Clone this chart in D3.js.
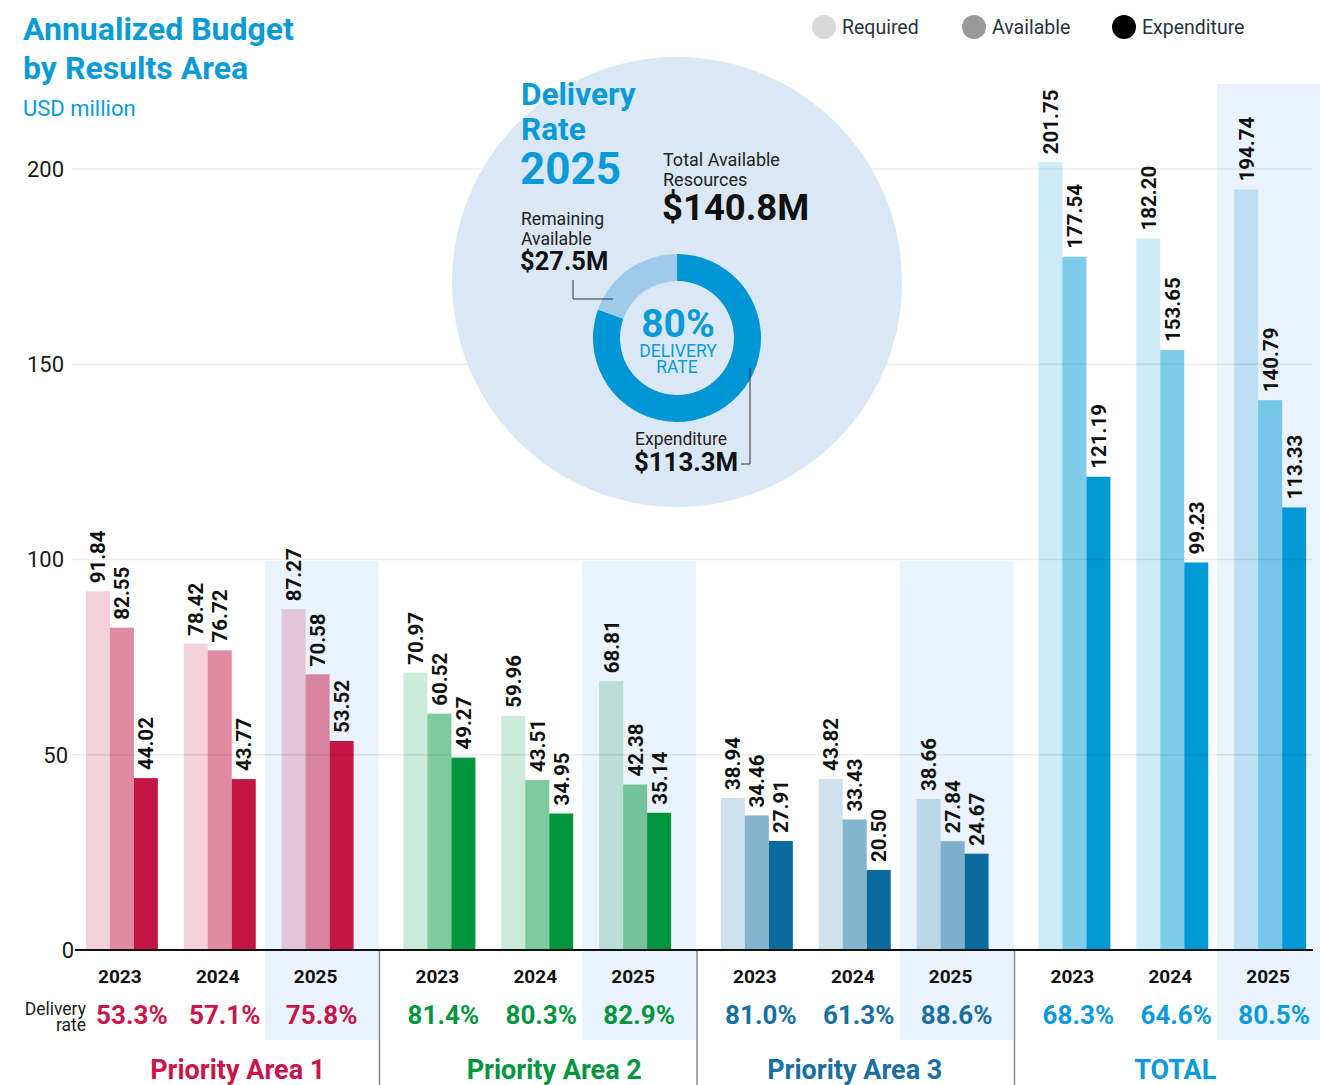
<!DOCTYPE html>
<html>
<head>
<meta charset="utf-8">
<script src="https://cdn.jsdelivr.net/npm/d3@7"></script>
<style>
  body { margin: 0; background: #fff; }
  svg { display: block; font-family: Roboto, "Noto Sans", sans-serif; }
</style>
</head>
<body>
<div id="chart"></div>
<script>
// data
const groups = ["Priority Area 1", "Priority Area 2", "Priority Area 3", "TOTAL"]
const years = ["2023", "2024", "2025"]
const series = ["Required", "Available", "Expenditure"]

const required = [
  [91.84, 78.42, 87.27],
  [70.97, 59.96, 68.81],
  [38.94, 43.82, 38.66],
  [201.75, 182.20, 194.74]
]
const available = [
  [82.55, 76.72, 70.58],
  [60.52, 43.51, 42.38],
  [34.46, 33.43, 27.84],
  [177.54, 153.65, 140.79]
]
const expenditure = [
  [44.02, 43.77, 53.52],
  [49.27, 34.95, 35.14],
  [27.91, 20.50, 24.67],
  [121.19, 99.23, 113.33]
]
const deliveryRate = [
  ["53.3%", "57.1%", "75.8%"],
  ["81.4%", "80.3%", "82.9%"],
  ["81.0%", "61.3%", "88.6%"],
  ["68.3%", "64.6%", "80.5%"]
]
const yTicks = [0, 50, 100, 150, 200]

// styles
const groupColor = ["#c41545", "#00943f", "#0c6b9e", "#0099d6"]
const rateColor = ["#c8154a", "#00963f", "#1a6fa0", "#0d9ad8"]
const seriesOpacity = [0.2, 0.5, 1]
const legendColor = ["#d9d9d9", "#9a9a9a", "#000000"]
const blue = "#0a9bd7"
const highlightFill = "#eaf2fb"
const titleShift = [18, 17, 0, 3]

const width = 1320, height = 1085

const svg = d3.select("#chart").append("svg")
  .attr("width", width)
  .attr("height", height)

const y = d3.scaleLinear().domain([0, 200]).range([950, 169])

const groupW = 317.5
const xGroup = d3.scaleBand()
  .domain(groups)
  .range([61, 61 + groupW * groups.length])

const xYear = d3.scaleBand()
  .domain(years)
  .range([0, groupW])
  .paddingOuter(0.122)

const xSeries = d3.scaleBand()
  .domain(series)
  .range([-36, 36])

const rows = []
groups.forEach((g, gi) => {
  years.forEach((yr, yi) => {
    const vals = [required[gi][yi], available[gi][yi], expenditure[gi][yi]]
    vals.forEach((v, si) => {
      rows.push({ g, gi, yr, yi, s: series[si], si, v })
    })
  })
})
const clusterX = (g, yr) => xGroup(g) + xYear(yr) + xYear.bandwidth() / 2

// highlight band for 2025
const hlTop = [99.6, 99.6, 99.6, 221.8]
svg.append("g")
  .selectAll("rect")
  .data(groups)
  .join("rect")
  .attr("x", g => xGroup(g) + xYear("2025") - 4)
  .attr("width", g => groupW - xYear("2025") + 4)
  .attr("y", (g, i) => y(hlTop[i]))
  .attr("height", (g, i) => 1040 - y(hlTop[i]))
  .attr("fill", highlightFill)

// bars
svg.append("g")
  .selectAll("rect")
  .data(rows)
  .join("rect")
  .attr("x", d => clusterX(d.g, d.yr) + xSeries(d.s))
  .attr("width", xSeries.bandwidth())
  .attr("y", d => y(d.v))
  .attr("height", d => y(0) - y(d.v))
  .attr("fill", d => groupColor[d.gi])
  .attr("fill-opacity", d => seriesOpacity[d.si])

// gridlines (drawn over bars, faint)
svg.append("g")
  .selectAll("line")
  .data(yTicks.filter(t => t > 0))
  .join("line")
  .attr("x1", 72).attr("x2", 1312)
  .attr("y1", d => y(d)).attr("y2", d => y(d))
  .attr("stroke", "#000")
  .attr("stroke-opacity", 0.07)
  .attr("stroke-width", 1.5)

// y labels
svg.append("g")
  .selectAll("text")
  .data(yTicks)
  .join("text")
  .attr("x", d => d === 0 ? 74 : (d === 50 ? 68 : 64))
  .attr("y", d => y(d))
  .attr("dy", "0.36em")
  .attr("text-anchor", "end")
  .attr("font-size", 22)
  .attr("fill", "#1a1a1a")
  .text(d => d)

// zero axis
svg.append("line")
  .attr("x1", 75).attr("x2", 1313)
  .attr("y1", y(0)).attr("y2", y(0))
  .attr("stroke", "#111")
  .attr("stroke-width", 2)

// value labels
svg.append("g")
  .selectAll("text")
  .data(rows)
  .join("text")
  .attr("transform", d => `translate(${clusterX(d.g, d.yr) + xSeries(d.s) + xSeries.bandwidth() / 2},${y(d.v) - 8}) rotate(-90)`)
  .attr("dy", "0.36em")
  .attr("font-size", 20.5)
  .attr("font-weight", 700)
  .attr("fill", "#111")
  .text(d => d.v.toFixed(2))

// group separators
svg.append("g")
  .selectAll("line")
  .data(groups.slice(1))
  .join("line")
  .attr("x1", g => xGroup(g) + 1).attr("x2", g => xGroup(g) + 1)
  .attr("y1", 951).attr("y2", height)
  .attr("stroke", "#8a8a8a")
  .attr("stroke-width", 1.5)

// year labels & delivery rates
const cells = []
groups.forEach((g, gi) => years.forEach((yr, yi) => cells.push({ g, gi, yr, yi })))
const rateShift = (d) => d.gi === 0 ? [10, 5, 4][d.yi] : 4

svg.append("g")
  .selectAll("text")
  .data(cells)
  .join("text")
  .attr("x", d => clusterX(d.g, d.yr) - 2)
  .attr("y", 983)
  .attr("text-anchor", "middle")
  .attr("font-size", 19)
  .attr("font-weight", 700)
  .attr("fill", "#111")
  .text(d => d.yr)

svg.append("g")
  .selectAll("text")
  .data(cells)
  .join("text")
  .attr("x", d => clusterX(d.g, d.yr) + rateShift(d))
  .attr("y", 1024)
  .attr("text-anchor", "middle")
  .attr("font-size", 26)
  .attr("font-weight", 700)
  .attr("fill", d => rateColor[d.gi])
  .text(d => deliveryRate[d.gi][d.yi])

svg.append("text")
  .attr("x", 86).attr("y", 1015)
  .attr("text-anchor", "end")
  .attr("font-size", 17.5)
  .attr("fill", "#1a1a1a")
  .text("Delivery")
svg.append("text")
  .attr("x", 86).attr("y", 1031)
  .attr("text-anchor", "end")
  .attr("font-size", 17.5)
  .attr("fill", "#1a1a1a")
  .text("rate")

// group titles
svg.append("g")
  .selectAll("text")
  .data(groups)
  .join("text")
  .attr("x", (g, i) => xGroup(g) + groupW / 2 + titleShift[i])
  .attr("y", 1079)
  .attr("text-anchor", "middle")
  .attr("font-size", 27)
  .attr("font-weight", 700)
  .attr("fill", (g, i) => rateColor[i])
  .text(g => g)

// title
svg.append("text").attr("x", 23).attr("y", 40)
  .attr("font-size", 32).attr("font-weight", 700).attr("fill", blue)
  .text("Annualized Budget")
svg.append("text").attr("x", 23).attr("y", 79)
  .attr("font-size", 32).attr("font-weight", 700).attr("fill", blue)
  .text("by Results Area")
svg.append("text").attr("x", 23).attr("y", 116)
  .attr("font-size", 22).attr("fill", blue)
  .text("USD million")

// legend
const legend = svg.append("g")
  .selectAll("g")
  .data(series)
  .join("g")
  .attr("transform", (d, i) => `translate(${824 + i * 150},27)`)
legend.append("circle").attr("r", 12).attr("fill", (d, i) => legendColor[i])
legend.append("text")
  .attr("x", 18).attr("dy", "0.36em")
  .attr("font-size", 19.5)
  .attr("fill", "#2a333c")
  .text(d => d)

// inset: delivery rate 2025
const totAvail = available[3][2]
const totExp = expenditure[3][2]
const remaining = totAvail - totExp
const inset = svg.append("g")

inset.append("circle")
  .attr("cx", 677).attr("cy", 282).attr("r", 225)
  .attr("fill", "#dae8f6")

const pie = d3.pie().sort(null).value(d => d.v)
const arc = d3.arc().innerRadius(57).outerRadius(84)
inset.append("g")
  .attr("transform", "translate(677,338)")
  .selectAll("path")
  .data(pie([{ k: "exp", v: totExp }, { k: "rem", v: remaining }]))
  .join("path")
  .attr("d", arc)
  .attr("fill", d => d.data.k === "exp" ? "#0096d6" : "#9fcbea")

const txt = (x, yy, s, size, weight, fill, anchor) => inset.append("text")
  .attr("x", x).attr("y", yy)
  .attr("font-size", size)
  .attr("font-weight", weight)
  .attr("fill", fill)
  .attr("text-anchor", anchor || "start")
  .text(s)

txt(521, 105, "Delivery", 31.5, 700, blue)
txt(521, 140, "Rate", 31.5, 700, blue)
txt(520, 184, "2025", 44, 700, blue)
txt(663, 166, "Total Available", 18, 400, "#222")
txt(663, 186, "Resources", 18, 400, "#222")
txt(662, 220, `$${totAvail.toFixed(1)}M`, 36.5, 700, "#111")
txt(521, 225, "Remaining", 17.6, 400, "#222")
txt(521, 245, "Available", 17.6, 400, "#222")
txt(520, 270, `$${remaining.toFixed(1)}M`, 25.5, 700, "#111")
txt(635, 445, "Expenditure", 17.5, 400, "#222")
txt(634, 471, `$${totExp.toFixed(1)}M`, 25.8, 700, "#111")
txt(678, 337, `${Math.round(totExp / totAvail * 100)}%`, 39, 700, blue, "middle")
txt(678, 357, "DELIVERY", 17.5, 400, blue, "middle")
txt(677, 373, "RATE", 17.5, 400, blue, "middle")

inset.append("path")
  .attr("d", "M573,280V299H613")
  .attr("fill", "none").attr("stroke", "#333").attr("stroke-width", 1)
inset.append("path")
  .attr("d", "M750,368V464H741")
  .attr("fill", "none").attr("stroke", "#333").attr("stroke-width", 1)
</script>
</body>
</html>
